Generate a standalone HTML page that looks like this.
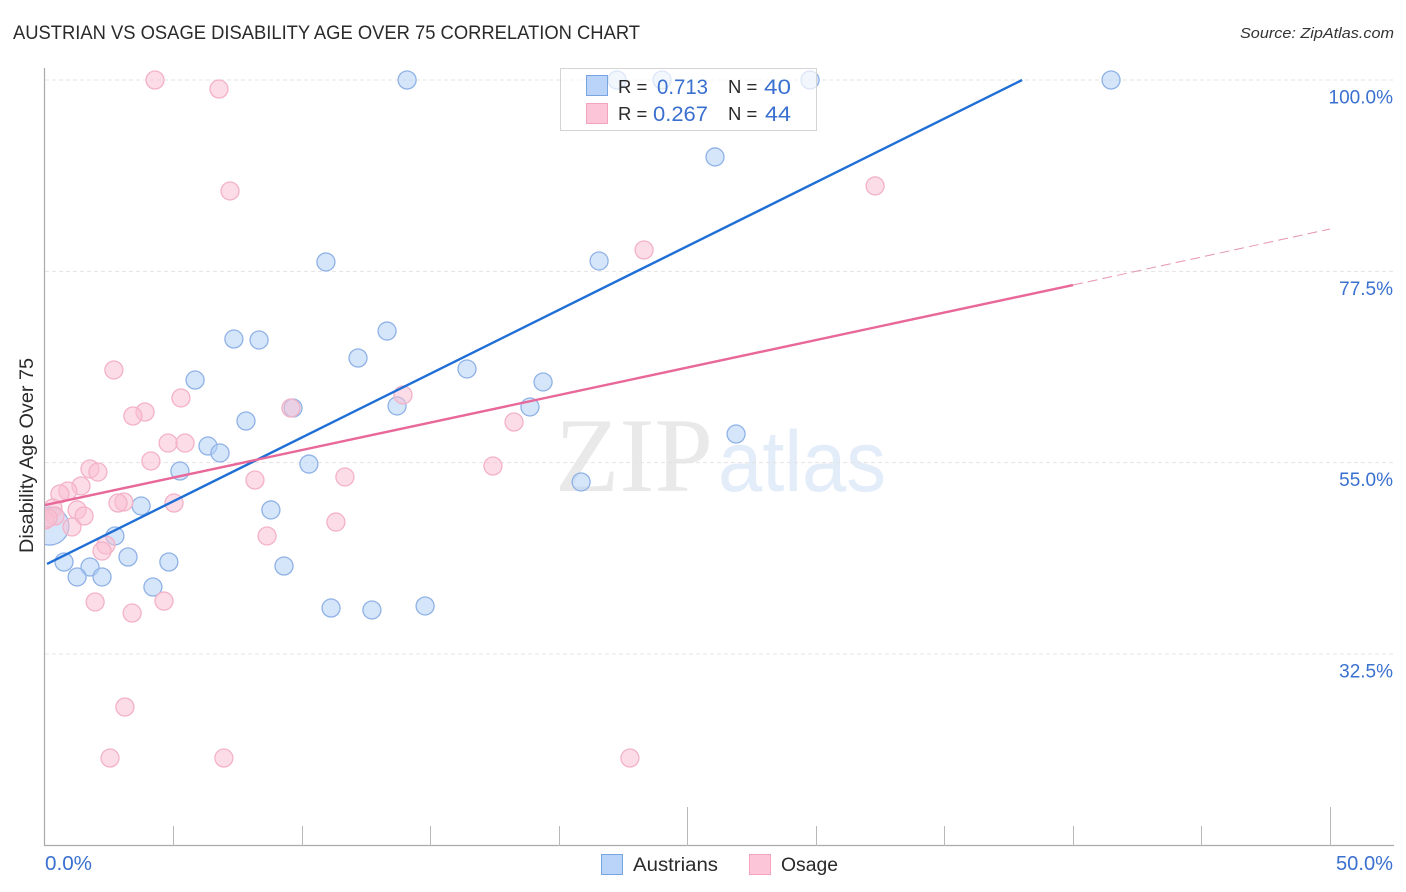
<!DOCTYPE html>
<html lang="en">
<head>
<meta charset="utf-8">
<title>Austrian vs Osage Disability Age Over 75 Correlation Chart</title>
<style>
html,body{margin:0;padding:0;background:#fff;width:1406px;height:892px;overflow:hidden}
svg{display:block;font-family:"Liberation Sans",sans-serif}
</style>
</head>
<body>
<svg id="chart" xmlns="http://www.w3.org/2000/svg" width="1406" height="892" viewBox="0 0 1406 892">
  <defs><clipPath id="plot-clip"><rect x="45" y="0" width="1361" height="892"/></clipPath></defs>
  <text x="13" y="39" font-size="19" fill="#2a2a2a" textLength="627" lengthAdjust="spacingAndGlyphs">AUSTRIAN VS OSAGE DISABILITY AGE OVER 75 CORRELATION CHART</text>
  <text x="1394" y="38" font-size="15" font-style="italic" fill="#333" text-anchor="end" textLength="154" lengthAdjust="spacingAndGlyphs">Source: ZipAtlas.com</text>
  <g>
    <text x="555" y="491" font-family="'Liberation Serif',serif" font-size="106" fill="#e9e9e9" textLength="158" lengthAdjust="spacingAndGlyphs">ZIP</text>
    <text x="718" y="491" font-size="86" fill="#e3ecf9" textLength="168" lengthAdjust="spacingAndGlyphs">atlas</text>
  </g>
  <g id="grid"></g>
  <g id="axes"></g>
  <g id="points" clip-path="url(#plot-clip)"></g>
  <g id="trends"></g>
  <g id="labels"></g>
  <text transform="translate(33,553) rotate(-90)" font-size="19" fill="#2a2a2a" textLength="195" lengthAdjust="spacingAndGlyphs">Disability Age Over 75</text>
  <g>
    <rect x="560.5" y="68.5" width="256" height="62" fill="#fff" fill-opacity="0.68" stroke="#d4d4d4"/>
    <rect x="586.5" y="75.5" width="21" height="20" fill="#b9d4f8" stroke="#78a5e2"/>
    <rect x="586.5" y="103.5" width="21" height="20" fill="#fdc6d8" stroke="#f2a3bd"/>
    <text x="618" y="93" font-size="18.5" fill="#2a2a2a">R =</text>
    <text x="657" y="94" font-size="21.5" fill="#3a70cf" textLength="51" lengthAdjust="spacingAndGlyphs">0.713</text>
    <text x="728" y="93" font-size="18.5" fill="#2a2a2a">N =</text>
    <text x="764" y="94" font-size="21.5" fill="#3a70cf" textLength="27" lengthAdjust="spacingAndGlyphs">40</text>
    <text x="618" y="120" font-size="18.5" fill="#2a2a2a">R =</text>
    <text x="653" y="121" font-size="21.5" fill="#3a70cf" textLength="55" lengthAdjust="spacingAndGlyphs">0.267</text>
    <text x="728" y="120" font-size="18.5" fill="#2a2a2a">N =</text>
    <text x="765" y="121" font-size="21.5" fill="#3a70cf" textLength="26" lengthAdjust="spacingAndGlyphs">44</text>
  </g>
  <g>
    <rect x="601.5" y="854.5" width="21" height="20" fill="#b9d4f8" stroke="#78a5e2"/>
    <text x="633" y="871" font-size="19" fill="#2a2a2a" textLength="85" lengthAdjust="spacingAndGlyphs">Austrians</text>
    <rect x="749.5" y="854.5" width="21" height="20" fill="#fdc6d8" stroke="#f2a3bd"/>
    <text x="781" y="871" font-size="19" fill="#2a2a2a" textLength="57" lengthAdjust="spacingAndGlyphs">Osage</text>
  </g>
</svg>
<script>
const yTickValues = [100, 77.5, 55, 32.5];
const yTickLabels = ['100.0%', '77.5%', '55.0%', '32.5%'];
const xTickValues = [5, 10, 15, 20, 25, 30, 35, 40, 45, 50];
const xMajorTicks = [25, 50];
const xEndLabels = ['0.0%', '50.0%'];

const austrianX = [14.09,22.26,24.01,29.77,41.48,26.07,10.93,21.56,7.35,8.33,13.31,12.18,16.42,5.84,19.38,9.65,13.70,18.87,7.82,26.89,6.34,6.81,5.25,10.27,20.86,3.74,8.79,2.72,3.23,0.74,4.82,1.75,9.30,1.25,2.22,4.20,11.13,12.72,14.79,0.19];
const austrianY = [100,100,100,100,100,90.95,78.6,78.72,69.54,69.43,70.48,67.31,66.02,64.72,64.49,61.43,61.67,61.55,59.90,58.37,56.96,56.14,54.02,54.84,52.73,49.91,49.44,46.38,43.91,43.32,43.32,42.73,42.85,41.56,41.56,40.38,37.91,37.68,38.15,47.55];
const austrianWeight = [1,1,1,1,1,1,1,1,1,1,1,1,1,1,1,1,1,1,1,1,1,1,1,1,1,1,1,1,1,1,1,1,1,1,1,1,1,1,1,4.46];

const osageX = [4.28,6.77,7.20,32.30,23.31,2.68,13.93,5.29,9.57,3.89,3.42,18.25,4.79,5.45,4.12,17.43,1.75,2.06,1.40,11.67,8.17,0.89,0.58,5.02,3.07,2.84,0.31,1.25,1.52,0.39,11.32,1.05,8.64,2.37,2.22,0,1.95,4.63,3.39,3.11,2.53,6.96,22.76,0.12];
const osageY = [100,98.94,86.95,87.54,80.01,65.90,62.96,62.61,61.43,60.96,60.49,59.78,57.31,57.31,55.20,54.61,54.26,53.90,52.26,53.32,52.96,51.67,51.32,50.26,50.38,50.26,49.67,49.44,48.73,48.73,48.02,47.44,46.38,45.32,44.61,48.26,38.62,38.73,37.32,26.27,20.27,20.27,20.27,48.5];

const austrianTrendX = [0.08, 38.02];
const austrianTrendY = [43.09, 100];
const osageTrendX = [0, 40];
const osageTrendY = [50.02, 75.89];
const osageDashX = [40, 50];
const osageDashY = [75.89, 82.48];

const NS = 'http://www.w3.org/2000/svg';
const xScale = function (v) { return 45 + v * 25.7; };
const yScale = function (v) { return 80 + (100 - v) * 8.504; };
const make = function (tag, parentId) {
  const el = document.createElementNS(NS, tag);
  document.getElementById(parentId).appendChild(el);
  return el;
};
const setAll = function (el, attrs) {
  Object.keys(attrs).forEach(function (k) { el.setAttribute(k, attrs[k]); });
};

yTickValues.forEach(function (v, i) {
  const line = make('line', 'grid');
  
  
  setAll(line, {x1: 45, x2: 1394, y1: yScale(v), y2: yScale(v), stroke: '#e4e4e4', 'stroke-dasharray': '4 3'});
  const label = make('text', 'labels');
  
  
  setAll(label, {x: 1393, y: yScale(v) + 23.5, 'font-size': 19, fill: '#3a70cf', 'text-anchor': 'end'});
  label.textContent = yTickLabels[i];
});

const yAxis = make('line', 'axes');


setAll(yAxis, {x1: 44.5, x2: 44.5, y1: 68, y2: 846, stroke: '#aaa', 'stroke-width': 1.2});

const xAxis = make('line', 'axes');


setAll(xAxis, {x1: 44, x2: 1394, y1: 845.5, y2: 845.5, stroke: '#aaa', 'stroke-width': 1.2});

xTickValues.forEach(function (v) {
  const tick = make('line', 'axes');
  
  
  const top = xMajorTicks.indexOf(v) >= 0 ? 807 : 826;
  setAll(tick, {x1: Math.floor(xScale(v)) + 0.5, x2: Math.floor(xScale(v)) + 0.5, y1: top, y2: 846, stroke: '#b8b8b8'});
});

const xLabelStart = make('text', 'labels');


setAll(xLabelStart, {x: 45, y: 870, 'font-size': 20, fill: '#3a70cf', textLength: 47, lengthAdjust: 'spacingAndGlyphs'});
xLabelStart.textContent = xEndLabels[0];

const xLabelEnd = make('text', 'labels');


setAll(xLabelEnd, {x: 1336, y: 870, 'font-size': 20, fill: '#3a70cf', textLength: 57, lengthAdjust: 'spacingAndGlyphs'});
xLabelEnd.textContent = xEndLabels[1];

austrianX.forEach(function (v, i) {
  const c = make('circle', 'points');
  
  
  setAll(c, {cx: xScale(v), cy: yScale(austrianY[i]), r: 9 * Math.sqrt(austrianWeight[i]), fill: '#b2cff5', 'fill-opacity': 0.55, stroke: '#8fb2e6', 'stroke-width': 1.3});
});

osageX.forEach(function (v, i) {
  const c = make('circle', 'points');
  
  
  setAll(c, {cx: xScale(v), cy: yScale(osageY[i]), r: 9, fill: '#f9bfd2', 'fill-opacity': 0.55, stroke: '#f3b2c7', 'stroke-width': 1.3});
});

const blueTrend = make('line', 'trends');


setAll(blueTrend, {x1: xScale(austrianTrendX[0]), y1: yScale(austrianTrendY[0]), x2: xScale(austrianTrendX[1]), y2: yScale(austrianTrendY[1]), stroke: '#1f6fd6', 'stroke-width': 2.4});

const pinkTrend = make('line', 'trends');


setAll(pinkTrend, {x1: xScale(osageTrendX[0]), y1: yScale(osageTrendY[0]), x2: xScale(osageTrendX[1]), y2: yScale(osageTrendY[1]), stroke: '#e8689a', 'stroke-width': 2.4});

const pinkDash = make('line', 'trends');


setAll(pinkDash, {x1: xScale(osageDashX[0]), y1: yScale(osageDashY[0]), x2: xScale(osageDashX[1]), y2: yScale(osageDashY[1]), stroke: '#e595b3', 'stroke-width': 1, 'stroke-dasharray': '10 5'});
</script>
</body>
</html>
